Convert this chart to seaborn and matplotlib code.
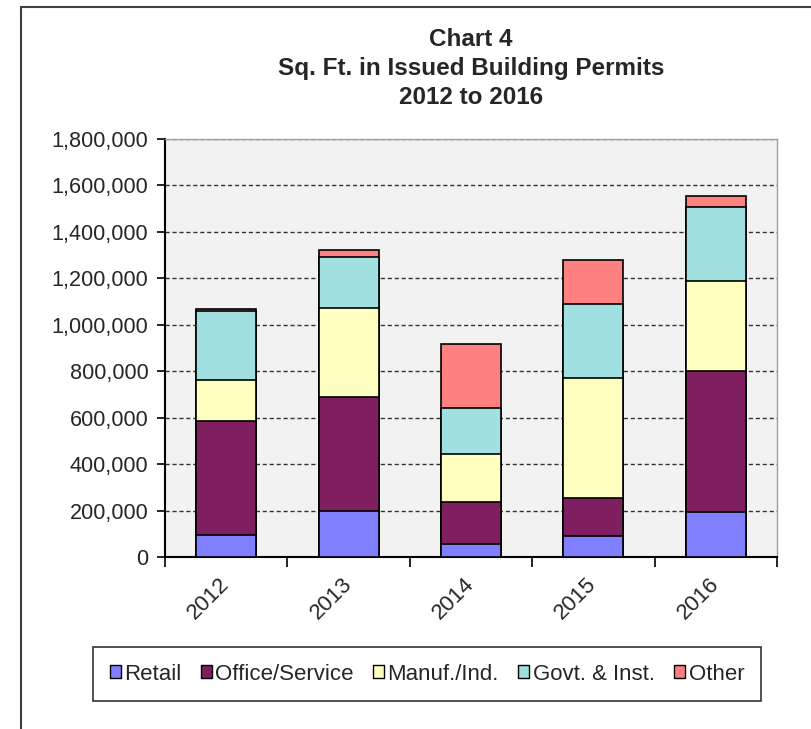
import matplotlib
matplotlib.use("Agg")
import matplotlib.pyplot as plt
import seaborn as sns
import numpy as np
import pandas as pd
from matplotlib.patches import Patch
from matplotlib.lines import Line2D
from matplotlib.ticker import FuncFormatter, FixedLocator

# data (sq. ft.)
years = ["2012", "2013", "2014", "2015", "2016"]
retail = [96000, 200000, 58000, 90000, 194000]
office = [490000, 491000, 177000, 164000, 606000]
manuf = [178000, 383000, 207000, 516000, 389000]
govt = [297000, 216000, 199000, 321000, 320000]
other = [6000, 32000, 275000, 188000, 44000]

series = ["Retail", "Office/Service", "Manuf./Ind.", "Govt. & Inst.", "Other"]
colors = ["#8080FF", "#7F1F5F", "#FFFFC0", "#A0E0E0", "#FF8080"]

df = pd.DataFrame({"year": years, "Retail": retail, "Office/Service": office,
                   "Manuf./Ind.": manuf, "Govt. & Inst.": govt, "Other": other})
cum = df[series].cumsum(axis=1)

sns.set_style("white")
plt.rcParams['font.family'] = ['Liberation Sans', 'DejaVu Sans']

fig = plt.figure(figsize=(8.12, 7.29), dpi=100)
ax = fig.add_axes([165/812, 172/729, 612/812, 418/729])
ax.set_facecolor("#F2F2F2")

# stacked bars: draw cumulative totals, tallest first
for name, col in zip(series[::-1], colors[::-1]):
    sns.barplot(x=df["year"], y=cum[name], color=col, width=0.49, saturation=1,
                edgecolor="black", linewidth=1.2, ax=ax, zorder=3)

ax.set_ylim(0, 1800000)
ax.set_xlim(-0.5, 4.5)
ax.set_yticks(np.arange(0, 1800001, 200000))
ax.yaxis.set_major_formatter(FuncFormatter(lambda v, p: f"{int(v):,}"))
ax.yaxis.grid(True, color="#333333", linestyle=(0, (3, 2)), linewidth=1, zorder=0)
ax.set_axisbelow(True)
ax.set_xlabel("")
ax.set_ylabel("")

for s in ["left", "bottom"]:
    ax.spines[s].set_color("black")
    ax.spines[s].set_linewidth(1.5)
for s in ["top", "right"]:
    ax.spines[s].set_color("#A0A0A0")
    ax.spines[s].set_linewidth(1)

ax.tick_params(axis="y", direction="out", length=6, width=1.2, labelsize=15.6, pad=6, left=True, color="black")
ax.xaxis.set_minor_locator(FixedLocator(np.arange(-0.5, 5, 1)))
ax.tick_params(axis="x", which="minor", direction="out", length=7, width=1.2, bottom=True, color="black")
ax.tick_params(axis="x", which="major", length=0, labelsize=16, pad=17)
for lab in ax.get_xticklabels():
    lab.set_rotation(45)
    lab.set_rotation_mode("anchor")
    lab.set_ha("right")
    lab.set_va("center")

fig.text(471/812, 1 - 40/729, "Chart 4", ha="center", va="center", fontsize=17.5, fontweight="bold")
fig.text(471/812, 1 - 69/729, "Sq. Ft. in Issued Building Permits", ha="center", va="center", fontsize=17.5, fontweight="bold")
fig.text(471/812, 1 - 98/729, "2012 to 2016", ha="center", va="center", fontsize=17.5, fontweight="bold")

handles = [Patch(facecolor=c, edgecolor="black", linewidth=1) for c in colors]
leg = fig.legend(handles, series, ncol=5, loc="center",
                 bbox_to_anchor=(82/812, 1 - 699/729, 690/812, 50/729), mode="expand",
                 fontsize=16, frameon=True, fancybox=False, edgecolor="black",
                 handlelength=0.5, handleheight=0.5, handletextpad=0.15,
                 columnspacing=1.3, borderpad=0.75)
leg.get_frame().set_linewidth(1.2)

# outer chart frame
fig.add_artist(Line2D([21/812, 21/812], [0, 1 - 7/729], transform=fig.transFigure, color="#404040", lw=1.5))
fig.add_artist(Line2D([21/812, 1], [1 - 7/729, 1 - 7/729], transform=fig.transFigure, color="#404040", lw=1.5))

fig.savefig("out.png", dpi=100)
